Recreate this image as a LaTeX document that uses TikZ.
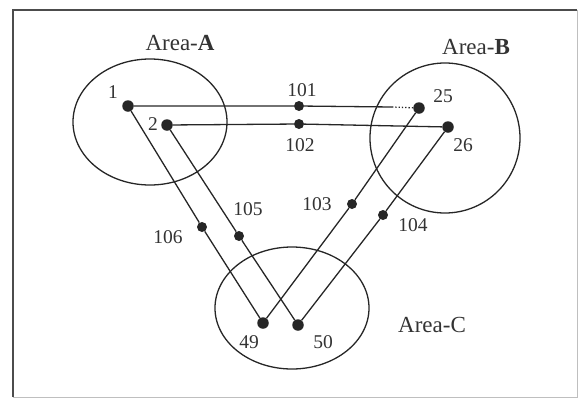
\documentclass[tikz,border=0pt]{standalone}
\usepackage{fontspec}
\setmainfont{Liberation Serif}
\begin{document}
\begin{tikzpicture}[x=1pt,y=-1pt,
  area/.style={draw=black!85,line width=1.3pt},
  link/.style={draw=black!85,line width=1.3pt},
  bigdot/.style={circle,fill=black!85,inner sep=0pt,minimum size=11.5pt},
  smalldot/.style={circle,fill=black!85,inner sep=0pt,minimum size=10pt},
  num/.style={font=\fontsize{19.5}{19.5}\selectfont,text=black!80,inner sep=0pt},
  arealbl/.style={font=\fontsize{23}{23}\selectfont,text=black!80,inner sep=0pt}]
\useasboundingbox (0,0) rectangle (579,400);
% frame
\draw[black!70,line width=1.5pt] (13,397) -- (13,10) -- (577,10);
\draw[black!25,line width=1pt] (577,10) -- (577,397) -- (13,397);
% areas
\draw[area] (150,122) ellipse [x radius=77,y radius=63];
\draw[area] (445,138) ellipse [x radius=75,y radius=75];
\draw[area] (292,308) ellipse [x radius=77,y radius=61];
\node[arealbl] (la) at (180,43) {Area-\textbf{A}};
\node[arealbl] (lb) at (476,47) {Area-\textbf{B}};
\node[arealbl] (lc) at (432,325) {Area-C};
% routers
\node[bigdot] (n1) at (128,106) {};
\node[bigdot] (n2) at (167,125) {};
\node[bigdot] (n25) at (419,108) {};
\node[bigdot] (n26) at (448,127) {};
\node[bigdot] (n49) at (263,323) {};
\node[bigdot] (n50) at (298,325) {};
% intermediate points
\node[smalldot] (m101) at (299,106) {};
\node[smalldot] (m102) at (299,124) {};
\node[smalldot] (m103) at (352,204) {};
\node[smalldot] (m104) at (383,215) {};
\node[smalldot] (m105) at (239,236) {};
\node[smalldot] (m106) at (202,227) {};
\coordinate (d25) at (392,107);
% links
\draw[link] (n1) -- (m101) -- (d25);
\draw[link,dotted] (d25) -- (n25);
\draw[link] (n2) -- (m102) -- (n26);
\draw[link] (n1) -- (m106) -- (n49);
\draw[link] (n2) -- (m105) -- (n50);
\draw[link] (n25) -- (m103) -- (n49);
\draw[link] (n26) -- (m104) -- (n50);
% labels
\node[num] (t1) at (113,92) {1};
\node[num] (t2) at (153,124) {2};
\node[num] (t25) at (443,96) {25};
\node[num] (t26) at (463,145) {26};
\node[num] (t49) at (249,342) {49};
\node[num] (t50) at (323,342) {50};
\node[num] (t101) at (302,90) {101};
\node[num] (t102) at (300,145) {102};
\node[num] (t103) at (317,204) {103};
\node[num] (t104) at (413,225) {104};
\node[num] (t105) at (248,209) {105};
\node[num] (t106) at (168,237) {106};
\end{tikzpicture}
\end{document}
